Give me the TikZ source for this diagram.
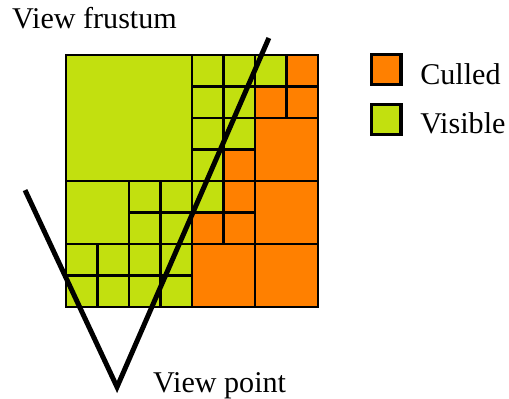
\documentclass[tikz,border=0pt]{standalone}
\usepackage{fontspec}
\setmainfont{Liberation Serif}
\usetikzlibrary{positioning}
\definecolor{lime}{rgb}{0.76, 0.88, 0.06}
\definecolor{culled}{rgb}{1.0, 0.5, 0.0}
\tikzset{
  cell/.style={draw=black,line width=2.6pt},
  legendbox/.style={draw=black,line width=2.8pt,minimum size=0.95cm,inner sep=0pt},
  txtlabel/.style={font=\fontsize{27.2}{30}\selectfont,inner sep=0pt,anchor=base west}
}

\begin{document}
\begin{tikzpicture}
\useasboundingbox (-2.095,-2.889) rectangle (14.063,9.746);
% big cells
\draw[cell,fill=lime] (0,4) rectangle ++(4,4);
\draw[cell,fill=lime] (0,2) rectangle ++(2,2);
\foreach \x/\y in {6/4,6/2,4/0,6/0} {
  \draw[cell,fill=culled] (\x,\y) rectangle ++(2,2);
}
% small cells
\foreach \x/\y in {4/7,5/7,6/7,4/6,5/6,4/5,5/5,4/4,4/3,2/3,3/3,2/2,3/2,0/1,1/1,2/1,3/1,0/0,1/0,2/0,3/0} {
  \draw[cell,fill=lime] (\x,\y) rectangle ++(1,1);
}
\foreach \x/\y in {7/7,6/6,7/6,5/4,5/3,4/2,5/2} {
  \draw[cell,fill=culled] (\x,\y) rectangle ++(1,1);
}

% frustum
\coordinate (eye) at (1.62,-2.54);
\coordinate (fl) at (-1.30,3.71);
\coordinate (fr) at (6.44,8.54);
\draw[line width=4.5pt] (fl) -- (eye) -- (fr);

\node[txtlabel] (frustum) at (-1.714,8.857) {View frustum};
\node[txtlabel] (viewpt) at (2.762,-2.698) {View point};

% legend
\node[legendbox,fill=culled] (sqc) at (10.16,7.54) {};
\node[legendbox,fill=lime] (sqv) at (10.16,5.95) {};
\node[txtlabel] (txc) at (11.24,7.05) {Culled};
\node[txtlabel] (txv) at (11.24,5.52) {Visible};
\end{tikzpicture}
\end{document}
